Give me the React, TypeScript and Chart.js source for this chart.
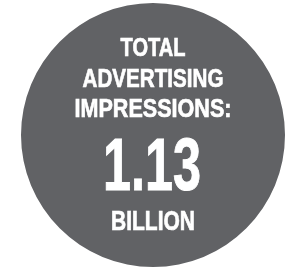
import React, { useEffect, useRef } from "react";
import { Chart, registerables } from "chart.js";

Chart.register(...registerables);

const categories = ["Total advertising impressions"];
const values = [1.13];
const headingLines = ["TOTAL", "ADVERTISING", "IMPRESSIONS:"];
const valueLabel = "1.13";
const unitLabel = "BILLION";

const FONT = '"Liberation Sans", "DejaVu Sans", sans-serif';

function drawFit(ctx: any, text: string, x: number, y: number, size: number, width: number, stroke: number) {
  ctx.font = `bold ${size}px ${FONT}`;
  const w = ctx.measureText(text).width;
  const s = width / w;
  ctx.save();
  ctx.translate(x, y);
  ctx.scale(s, 1);
  ctx.fillText(text, 0, 0);
  if (stroke > 0) {
    ctx.lineWidth = stroke;
    ctx.strokeStyle = "#ffffff";
    ctx.strokeText(text, 0, 0);
  }
  ctx.restore();
}

const textPlugin = {
  id: "centerText",
  afterDraw(chart: any) {
    const arc = chart.getDatasetMeta(0).data[0];
    if (!arc) return;
    const cx = arc.x;
    const cy = arc.y;
    const ctx = chart.ctx;
    ctx.save();
    ctx.fillStyle = "#ffffff";
    ctx.textAlign = "center";
    ctx.textBaseline = "alphabetic";
    const baselines = [-79, -48, -18];
    const widths = [65, 141, 157];
    headingLines.forEach((t, i) => drawFit(ctx, t, cx, cy + baselines[i], 26.5, widths[i], 0.7));
    drawFit(ctx, valueLabel, cx - 1, cy + 55, 74, 98, 1);
    drawFit(ctx, unitLabel, cx, cy + 95, 27.5, 84, 0.7);
    ctx.restore();
  },
};

export default function App() {
  const ref = useRef<HTMLCanvasElement>(null);
  useEffect(() => {
    const chart = new Chart(ref.current!, {
      type: "pie",
      data: {
        labels: categories,
        datasets: [
          {
            data: values,
            backgroundColor: ["#616265"],
            borderWidth: 0,
          },
        ],
      },
      options: {
        animation: false,
        responsive: false,
        layout: { padding: { left: 20, right: 5, top: 3, bottom: 7 } },
        plugins: {
          legend: { display: false },
          tooltip: { enabled: false },
        },
      },
      plugins: [textPlugin],
    });
    return () => chart.destroy();
  }, []);
  return (
    <div style={{ position: "absolute", left: 0, top: 0, width: 291, height: 274, background: "#fff" }}>
      <canvas ref={ref} width={291} height={274} />
    </div>
  );
}
